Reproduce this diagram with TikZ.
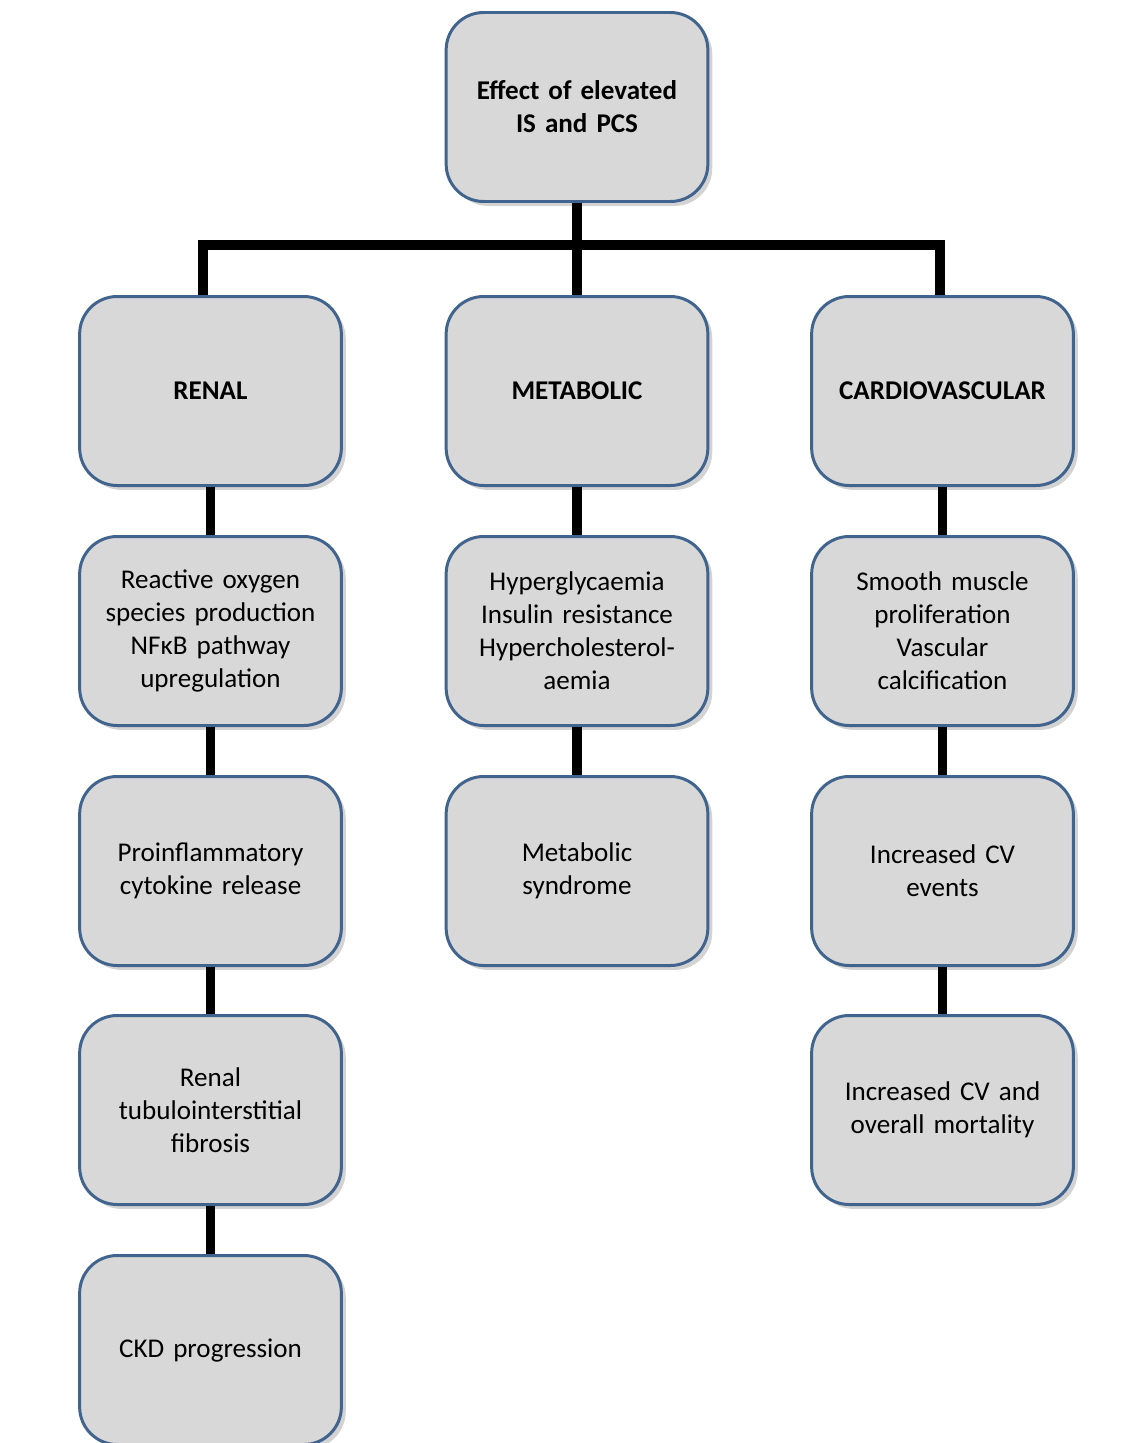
\documentclass[tikz,border=0pt]{standalone}
\usepackage{fontspec}
\setmainfont[WordSpace=0.75]{Carlito}
\usetikzlibrary{shadows}
\definecolor{boxedge}{RGB}{65,100,143}
\definecolor{boxfill}{RGB}{216,216,216}

\begin{document}
\begin{tikzpicture}[
	box/.style={draw=boxedge, line width=1.7pt, fill=boxfill, rounded corners=0.75cm,
		minimum width=5.2cm, minimum height=3.78cm, text width=5.0cm, align=center,
		font=\fontsize{15.4}{18.8}\selectfont,
		drop shadow={opacity=0.35, shadow xshift=2.5pt, shadow yshift=-2.5pt}},
	head/.style={box, font=\fontsize{15.4}{18.8}\selectfont\bfseries},
	link/.style={line width=5.2pt, black}
	]
	\useasboundingbox (0,0) rectangle (22.86,-28.86);
	
	% top
	\node[head] (effect) at (11.54,-2.14) {Effect of elevated\\IS and PCS};
	
	% categories
	\node[head] (renal) at (4.21,-7.82) {RENAL};
	\node[head] (metab) at (11.54,-7.82) {METABOLIC};
	\node[head] (cardio) at (18.85,-7.82) {CARDIOVASCULAR};
	
	% renal column
	\node[box] (ros) at (4.21,-12.62) {Reactive oxygen\\species production\\NFκB pathway\\upregulation};
	\node[box] (cyto) at (4.21,-17.42) {Proinflammatory\\cytokine release};
	\node[box] (fibro) at (4.21,-22.2) {Renal\\tubulointerstitial\\fibrosis};
	\node[box] (ckd) at (4.21,-27.0) {CKD progression};
	
	% metabolic column
	\node[box] (hyper) at (11.54,-12.62) {Hyperglycaemia\\Insulin resistance\\Hypercholesterol-\\aemia};
	\node[box] (msyn) at (11.54,-17.42) {Metabolic\\syndrome};
	
	% cardiovascular column
	\node[box] (smooth) at (18.85,-12.62) {Smooth muscle\\proliferation\\Vascular\\calcification};
	\node[box] (cvev) at (18.85,-17.42) {Increased CV\\events};
	\node[box] (mort) at (18.85,-22.2) {Increased CV and\\overall mortality};
	
	% connectors
	\draw[link] (effect.south) -- (metab.north);
	\draw[link] ([xshift=-0.15cm]renal.north) -- ++(0,1.0) -| ([xshift=-0.05cm]cardio.north);
	\draw[link] (renal) -- (ros);
	\draw[link] (ros) -- (cyto);
	\draw[link] (cyto) -- (fibro);
	\draw[link] (fibro) -- (ckd);
	\draw[link] (metab) -- (hyper);
	\draw[link] (hyper) -- (msyn);
	\draw[link] (cardio) -- (smooth);
	\draw[link] (smooth) -- (cvev);
	\draw[link] (cvev) -- (mort);
\end{tikzpicture}
\end{document}
